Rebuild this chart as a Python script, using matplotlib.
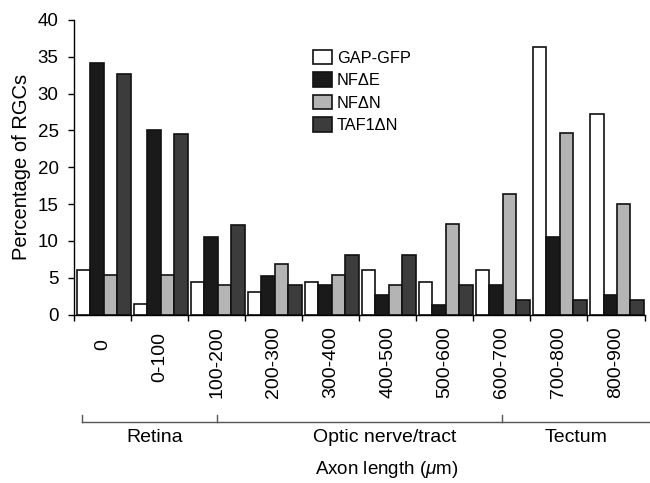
import matplotlib
matplotlib.use("Agg")
import matplotlib.pyplot as plt
import matplotlib.transforms as mtransforms
import numpy as np

plt.rcParams['font.family'] = ['Liberation Sans', 'DejaVu Sans']
plt.rcParams['mathtext.fontset'] = 'custom'
plt.rcParams['mathtext.it'] = 'Liberation Sans:italic'
plt.rcParams['mathtext.rm'] = 'Liberation Sans'

categories = ['0', '0-100', '100-200', '200-300', '300-400', '400-500',
              '500-600', '600-700', '700-800', '800-900']
gap_gfp = [6.0, 1.45, 4.45, 3.0, 4.45, 6.0, 4.45, 6.0, 36.4, 27.2]
nf_de = [34.2, 25.0, 10.5, 5.2, 3.95, 2.6, 1.3, 3.95, 10.5, 2.6]
nf_dn = [5.4, 5.4, 4.05, 6.8, 5.4, 4.05, 12.3, 16.4, 24.6, 15.05]
taf1_dn = [32.65, 24.5, 12.15, 4.05, 8.1, 8.1, 4.05, 2.0, 2.0, 2.0]
series_names = ['GAP-GFP', 'NF\u0394E', 'NF\u0394N', 'TAF1\u0394N']
series_colors = ['#ffffff', '#1a1a1a', '#b4b4b4', '#3c3c3c']
yticks = [0, 5, 10, 15, 20, 25, 30, 35, 40]
regions = ['Retina', 'Optic nerve/tract', 'Tectum']

fig = plt.figure(figsize=(6.5, 4.83), dpi=100)
ax = fig.add_axes([74.3 / 650, 1 - 314.5 / 483, (644.5 - 74.3) / 650, (314.5 - 20) / 483])

x = np.arange(len(categories))
bw = 0.236
off = 0.045
for k, (vals, name, col) in enumerate(zip([gap_gfp, nf_de, nf_dn, taf1_dn], series_names, series_colors)):
    ax.bar(x + off + k * bw, vals, width=bw, align='edge', color=col,
           edgecolor='#111111', linewidth=1.2, label=name)

ax.set_xlim(0, len(categories))
ax.set_ylim(0, 40)
ax.set_yticks(yticks)
ax.set_yticklabels([str(v) for v in yticks], fontsize=13.5)
ax.set_xticks(np.arange(len(categories) + 1))
ax.set_xticklabels([])
ax.set_xticks(x + 0.5, minor=True)
ax.set_xticklabels(categories, minor=True, rotation=90, fontsize=14, va='top', ha='center')
ax.tick_params(axis='x', which='major', direction='out', length=4.3, width=1.0)
ax.tick_params(axis='x', which='minor', length=0, pad=8.2)
ax.tick_params(axis='y', direction='out', length=4.3, width=1.0, pad=7)
for s in ['top', 'right']:
    ax.spines[s].set_visible(False)
for s in ['left', 'bottom']:
    ax.spines[s].set_linewidth(1.0)
ax.set_ylabel('Percentage of RGCs', fontsize=14.5, labelpad=5)

# stagger of the first two category labels as in the reference
shifts_px = [13, 6]
for lab, dy in zip(ax.get_xticklabels(minor=True), shifts_px):
    lab.set_transform(lab.get_transform() +
                      mtransforms.ScaledTranslation(0, -dy / 100, fig.dpi_scale_trans))

leg = ax.legend(loc='center left', bbox_to_anchor=(312.5 / 650, 1 - 91.5 / 483),
                bbox_transform=fig.transFigure, frameon=False, fontsize=11.8,
                handlelength=1.2, handleheight=1.0, handletextpad=0.3,
                labelspacing=0.4, borderpad=0, borderaxespad=0)

# region bracket
tr = mtransforms.blended_transform_factory(ax.transData, fig.transFigure)
yb = 1 - 422 / 483
yt = 1 - 415 / 483
ax.plot([0.13, 10.1], [yb, yb], color='#555555', lw=1.0, transform=tr, clip_on=False)
for xv in [0.13, 2.5, 7.5]:
    ax.plot([xv, xv], [yb, yt], color='#555555', lw=1.0, transform=tr, clip_on=False)
for xv, name in zip([1.41, 5.45, 8.8], regions):
    ax.text(xv, 1 - 437 / 483, name, transform=tr, ha='center', va='center', fontsize=14)
ax.text(5.48, 1 - 470 / 483, 'Axon length ($\\mu$m)', transform=tr, ha='center', va='center', fontsize=13.5)

fig.savefig('out.png', dpi=100)
